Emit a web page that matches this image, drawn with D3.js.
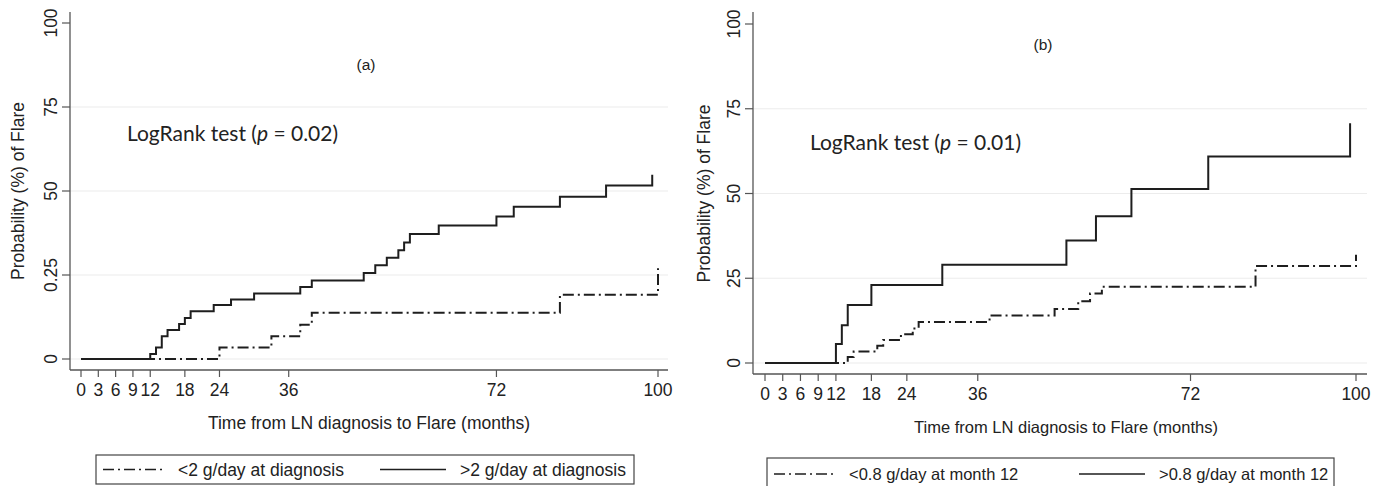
<!DOCTYPE html>
<meta charset="UTF-8">
<style>
  body { margin: 0; background: #fff; }
  svg { display: block; }
  text { font-family: "Liberation Sans", Arial, sans-serif; fill: #222; }
  .note { font-family: Lato, "Open Sans", sans-serif; }
</style>
<svg width="1383" height="486"></svg>
<script src="https://d3js.org/d3.v7.min.js"></script>
<script>
  // x ticks (months) and y ticks (%)
  const X_TICKS = [0, 3, 6, 9, 12, 18, 24, 36, 72, 100];
  const Y_TICKS = [0, 25, 50, 75, 100];
  const Y_LABELS_A = ['0', '0.25', '50', '75', '100'];
  const Y_LABELS_B = ['0', '25', '50', '75', '100'];

  // panel (a): proteinuria at diagnosis
  const aLowTime = [0, 24, 33, 38, 40, 83, 100];
  const aLowProb = [0, 3.4, 6.8, 10.2, 13.8, 19.1, 27];
  const aHighTime = [0, 12, 13, 14, 15, 17, 18, 19, 23, 26, 30, 38, 40, 49, 51, 53, 55, 56, 57, 62, 72, 75, 83, 91, 99];
  const aHighProb = [0, 1.5, 3.4, 6.8, 8.6, 10.4, 12.2, 14.2, 16.1, 17.7, 19.5, 21.4, 23.4, 25.6, 27.9, 30.1, 32.4, 34.7, 37.2, 39.7, 42.4, 45.3, 48.3, 51.6, 54.8];

  // panel (b): proteinuria at month 12
  const bLowTime = [0, 14, 15, 19, 20, 23, 25, 26, 38, 49, 53, 55, 57, 83, 100];
  const bLowProb = [0, 1.8, 3.4, 5.1, 6.8, 8.5, 10.2, 12.1, 14, 15.9, 18.2, 20.5, 22.5, 28.6, 31.9];
  const bHighTime = [0, 12, 13, 14, 18, 30, 51, 56, 62, 75, 99];
  const bHighProb = [0, 5.6, 11.1, 17.1, 23, 29, 36.1, 43.3, 51.3, 60.9, 70.7];

  const DASH_DOT = '11,4,2,4';
  const FONT = '17.5px';
  const svg = d3.select('svg');

  const zip = (t, p) => t.map((d, i) => [d, p[i]]);

  function drawPanel(cfg) {
    const g = svg.append('g');
    const x = d3.scaleLinear().domain([0, 100]).range([cfg.x0, cfg.x1]);
    const y = d3.scaleLinear().domain([0, 100]).range([cfg.y0, cfg.y1]);

    // grid lines (not at 100)
    g.selectAll('line.grid')
      .data(Y_TICKS.filter(d => d < 100))
      .enter().append('line').classed('grid', true)
        .attr('x1', cfg.axisX).attr('x2', cfg.gridEnd)
        .attr('y1', d => y(d)).attr('y2', d => y(d))
        .attr('stroke', '#ececec').attr('stroke-width', 1.2);

    // y axis
    g.append('line')
      .attr('x1', cfg.axisX).attr('x2', cfg.axisX)
      .attr('y1', 12).attr('y2', cfg.axisY)
      .attr('stroke', '#555').attr('stroke-width', 1.3);
    g.selectAll('line.ytick')
      .data(Y_TICKS)
      .enter().append('line').classed('ytick', true)
        .attr('x1', cfg.axisX - 8).attr('x2', cfg.axisX)
        .attr('y1', d => y(d)).attr('y2', d => y(d))
        .attr('stroke', '#555').attr('stroke-width', 1.2);
    g.selectAll('text.ylab')
      .data(Y_TICKS)
      .enter().append('text').classed('ylab', true)
        .attr('transform', d => `translate(${cfg.axisX - 13},${y(d)}) rotate(-90)`)
        .attr('text-anchor', 'middle')
        .style('font-size', FONT)
        .text((d, i) => cfg.yLabels[i]);
    g.append('text')
      .attr('transform', `translate(${cfg.axisX - cfg.yTitleOff},${(cfg.y0 + cfg.y1) / 2}) rotate(-90)`)
      .attr('text-anchor', 'middle')
      .style('font-size', FONT)
      .text('Probability (%) of Flare');

    // x axis
    g.append('line')
      .attr('x1', cfg.axisX).attr('x2', cfg.gridEnd)
      .attr('y1', cfg.axisY).attr('y2', cfg.axisY)
      .attr('stroke', '#555').attr('stroke-width', 1.3);
    g.selectAll('line.xtick')
      .data(X_TICKS)
      .enter().append('line').classed('xtick', true)
        .attr('x1', d => x(d)).attr('x2', d => x(d))
        .attr('y1', cfg.axisY).attr('y2', cfg.axisY + 7)
        .attr('stroke', '#555').attr('stroke-width', 1.2);
    g.selectAll('text.xlab')
      .data(X_TICKS)
      .enter().append('text').classed('xlab', true)
        .attr('x', d => x(d)).attr('y', cfg.axisY + 26)
        .attr('text-anchor', 'middle')
        .style('font-size', FONT)
        .text(d => d);
    g.append('text')
      .attr('x', cfg.titleX).attr('y', cfg.axisY + 59)
      .attr('text-anchor', 'middle')
      .style('font-size', cfg.titleFont)
      .text('Time from LN diagnosis to Flare (months)');

    // curves
    const line = d3.line().x(d => x(d[0])).y(d => y(d[1])).curve(d3.curveStepAfter);
    g.append('path')
      .attr('d', line(zip(cfg.lowTime, cfg.lowProb)))
      .attr('fill', 'none').attr('stroke', '#1e1e1e').attr('stroke-width', 2)
      .attr('stroke-dasharray', DASH_DOT);
    g.append('path')
      .attr('d', line(zip(cfg.highTime, cfg.highProb)))
      .attr('fill', 'none').attr('stroke', '#1e1e1e').attr('stroke-width', 2);

    // annotations
    g.append('text')
      .attr('x', cfg.tagX).attr('y', cfg.tagY)
      .attr('text-anchor', 'middle')
      .style('font-size', '15.5px')
      .text(cfg.tag);
    const note = g.append('text').classed('note', true)
      .attr('x', cfg.noteX).attr('y', cfg.noteY)
      .style('font-size', '21px');
    note.append('tspan').text('LogRank test (');
    note.append('tspan').style('font-style', 'italic').text('p');
    note.append('tspan').text(` = ${cfg.p})`);

    // legend
    const lg = cfg.legend;
    g.append('rect')
      .attr('x', lg.x).attr('y', lg.y).attr('width', lg.w).attr('height', lg.h)
      .attr('fill', 'none').attr('stroke', '#444').attr('stroke-width', 1.2);
    const ly = lg.y + lg.h / 2;
    g.append('line')
      .attr('x1', lg.x + 7).attr('x2', lg.x + 68).attr('y1', ly).attr('y2', ly)
      .attr('stroke', '#1e1e1e').attr('stroke-width', 1.5)
      .attr('stroke-dasharray', DASH_DOT);
    g.append('text')
      .attr('x', lg.x + 82).attr('y', ly + 6)
      .style('font-size', lg.font)
      .text(lg.low);
    g.append('line')
      .attr('x1', lg.x + lg.split).attr('x2', lg.x + lg.split + 66).attr('y1', ly).attr('y2', ly)
      .attr('stroke', '#1e1e1e').attr('stroke-width', 1.5);
    g.append('text')
      .attr('x', lg.x + lg.split + 80).attr('y', ly + 6)
      .style('font-size', lg.font)
      .text(lg.high);
  }

  drawPanel({
    x0: 81, x1: 658, y0: 359, y1: 23,
    axisX: 70, axisY: 370, gridEnd: 668, yTitleOff: 46, titleX: 369, titleFont: '17.5px',
    yLabels: Y_LABELS_A,
    lowTime: aLowTime, lowProb: aLowProb,
    highTime: aHighTime, highProb: aHighProb,
    tag: '(a)', tagX: 366, tagY: 70,
    p: '0.02', noteX: 127, noteY: 141,
    legend: { x: 96, y: 455, w: 538, h: 29, split: 284, font: '17.5px',
      low: '<2 g/day at diagnosis', high: '>2 g/day at diagnosis' }
  });

  drawPanel({
    x0: 765, x1: 1356, y0: 363, y1: 24,
    axisX: 753, axisY: 374, gridEnd: 1367, yTitleOff: 43, titleX: 1066, titleFont: '16.5px',
    yLabels: Y_LABELS_B,
    lowTime: bLowTime, lowProb: bLowProb,
    highTime: bHighTime, highProb: bHighProb,
    tag: '(b)', tagX: 1043, tagY: 50,
    p: '0.01', noteX: 810, noteY: 150,
    legend: { x: 767, y: 458, w: 567, h: 32, split: 312, font: '16.5px',
      low: '<0.8 g/day at month 12', high: '>0.8 g/day at month 12' }
  });
</script>
